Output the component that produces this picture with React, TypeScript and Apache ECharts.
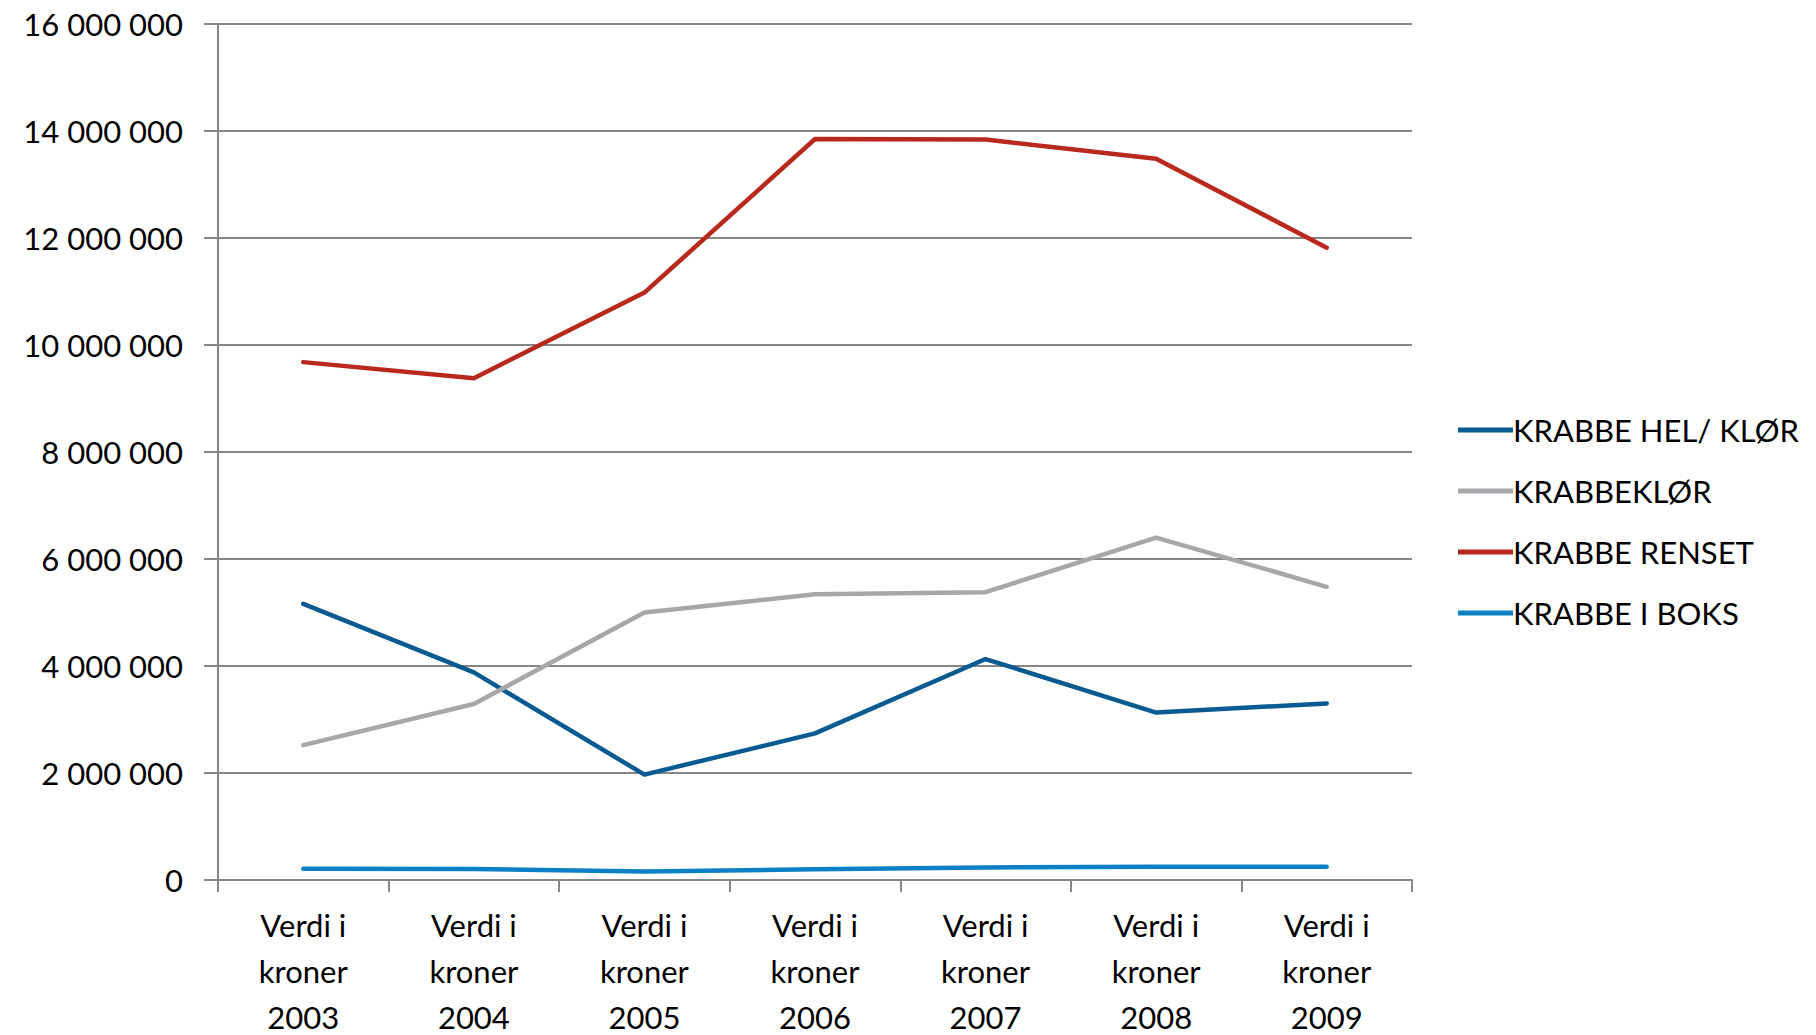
import React, { useEffect, useRef } from "react";
import * as echarts from "echarts";

const categories = [
  "Verdi i\nkroner\n2003",
  "Verdi i\nkroner\n2004",
  "Verdi i\nkroner\n2005",
  "Verdi i\nkroner\n2006",
  "Verdi i\nkroner\n2007",
  "Verdi i\nkroner\n2008",
  "Verdi i\nkroner\n2009",
];

const krabbeHelKlor = [5160000, 3880000, 1970000, 2740000, 4130000, 3130000, 3300000];
const krabbeklor = [2520000, 3290000, 5000000, 5340000, 5380000, 6400000, 5480000];
const krabbeRenset = [9680000, 9380000, 10980000, 13850000, 13840000, 13480000, 11820000];
const krabbeIBoks = [210000, 205000, 160000, 200000, 235000, 250000, 250000];

const seriesNames = ["KRABBE HEL/ KLØR", "KRABBEKLØR", "KRABBE RENSET", "KRABBE I BOKS"];
const seriesColors = ["#0a5a92", "#a7a7ab", "#b8281d", "#0c80c6"];

const FONT = "Lato";
const GRAY = "#868686";

function fmt(v: number): string {
  return String(Math.round(v)).replace(/\B(?=(\d{3})+(?!\d))/g, " ");
}

export default function App() {
  const ref = useRef<HTMLDivElement>(null);
  useEffect(() => {
    document.body.style.margin = "0";
    if (!ref.current) return;
    const chart = echarts.init(ref.current, null, { renderer: "svg" });
    const data = [krabbeHelKlor, krabbeklor, krabbeRenset, krabbeIBoks];
    chart.setOption({
      animation: false,
      backgroundColor: "#ffffff",
      grid: { left: 218, right: 404, top: 24, bottom: 155, containLabel: false, outerBoundsMode: "none" },
      legend: {
        orient: "vertical",
        left: 1453,
        top: 409,
        icon: "rect",
        itemWidth: 55,
        itemHeight: 5,
        itemGap: 29,
        textStyle: { fontFamily: FONT, fontSize: 31, color: "#000", lineHeight: 32, padding: [0, 0, 0, -5] },
        data: seriesNames,
      },
      xAxis: {
        type: "category",
        data: categories,
        boundaryGap: true,
        axisLine: { show: true, lineStyle: { color: GRAY, width: 2 } },
        axisTick: { show: true, interval: 0, length: 12, lineStyle: { color: GRAY, width: 2 } },
        axisLabel: { interval: 0, margin: 22, fontFamily: FONT, fontSize: 31, lineHeight: 46, color: "#000" },
        splitLine: { show: false },
      },
      yAxis: {
        type: "value",
        min: 0,
        max: 16000000,
        interval: 2000000,
        axisLine: { show: true, lineStyle: { color: GRAY, width: 2 } },
        axisTick: { show: true, length: 14, lineStyle: { color: GRAY, width: 2 } },
        axisLabel: { margin: 35, fontFamily: FONT, fontSize: 31, color: "#000", formatter: (v: number) => fmt(v) },
        splitLine: { show: true, lineStyle: { color: GRAY, width: 2 } },
      },
      series: seriesNames.map((name, i) => ({
        name,
        type: "line",
        data: data[i],
        symbol: "none",
        color: seriesColors[i],
        lineStyle: { width: 4.5, color: seriesColors[i], cap: "round", join: "round" },
        itemStyle: { color: seriesColors[i] },
      })),
    });
    return () => chart.dispose();
  }, []);
  return <div ref={ref} style={{ width: 1816, height: 1035 }} />;
}
